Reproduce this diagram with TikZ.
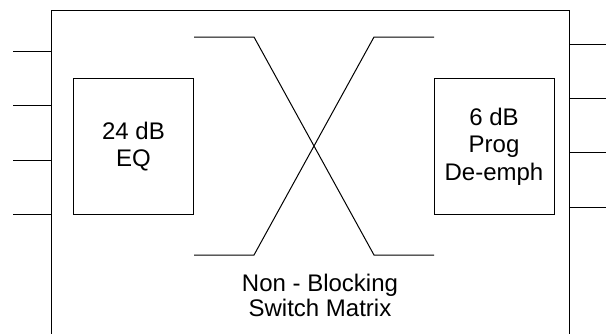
\documentclass[tikz,border=0pt]{standalone}
\usepackage{fontspec}
\setmainfont{Liberation Sans}
\usepackage{tikz}

\begin{document}
\begin{tikzpicture}[x=1pt, y=-1pt, line width=1pt]
	\tikzstyle{block} = [draw, line width=1pt, minimum width=120pt, minimum height=136pt, align=center, font=\fontsize{24}{27.5}\selectfont]
	\useasboundingbox (0,0) rectangle (610,333);
	% chassis, open at the bottom
	\node (chassis) [draw, minimum width=518pt, minimum height=340pt, anchor=north west] at (51,10) {};
	\node (eq) [block] at (133.5,146.5) {24 dB\\EQ};
	\node (deemph) [block] at (494,146.5) {6 dB\\Prog\\De-emph};
	\node (label) [align=center, font=\fontsize{24}{25}\selectfont] at (320,295) {Non - Blocking\\Switch Matrix};
	% inputs and outputs
	\foreach \y [count=\i] in {51,105,160,214} {
		\coordinate (in\i) at (13,\y);
		\draw (in\i) -- (in\i -| chassis.west);
	}
	\foreach \y [count=\i] in {44,98,152,207} {
		\coordinate (out\i) at (606,\y);
		\draw (out\i -| chassis.east) -- (out\i);
	}
	% switch matrix
	\coordinate (tl) at (194,37);
	\coordinate (tlk) at (254,37);
	\coordinate (bl) at (194,255);
	\coordinate (blk) at (254,255);
	\coordinate (tr) at (434,37);
	\coordinate (trk) at (374,37);
	\coordinate (br) at (434,255);
	\coordinate (brk) at (374,255);
	\draw (tl)--(tlk)--(brk)--(br);
	\draw (bl)--(blk)--(trk)--(tr);
\end{tikzpicture}
\end{document}
